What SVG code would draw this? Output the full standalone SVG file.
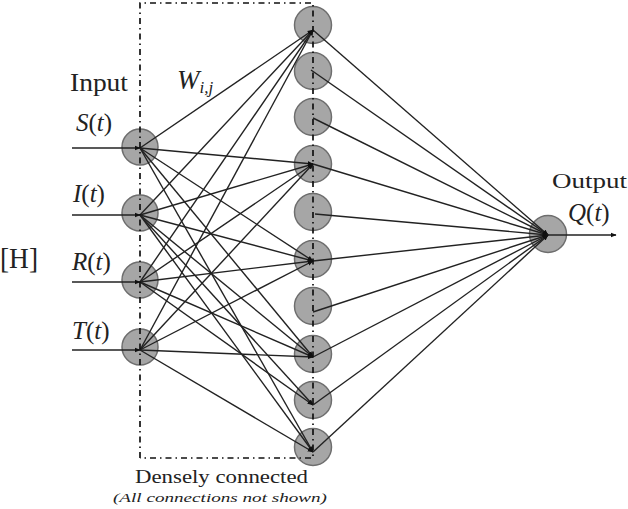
<svg xmlns="http://www.w3.org/2000/svg" width="628" height="509" viewBox="0 0 628 509">
<defs>
<style>
.nd{fill:#a6a6a6;stroke:#6e6e6e;stroke-width:1.5}
.cn{stroke:#222;stroke-width:1.4;fill:none;marker-end:url(#ah)}
.dd{stroke:#111;stroke-width:1.7;fill:none;stroke-dasharray:6 4 1.5 4}
.t{font-family:"Liberation Serif","DejaVu Serif","Times New Roman",serif;fill:#222}
.it{font-style:italic}
</style>
<marker id="ah" viewBox="0 0 10 10" refX="9" refY="5" markerWidth="6" markerHeight="6" markerUnits="userSpaceOnUse" orient="auto">
<path d="M0,1 L10,5 L0,9 z" fill="#111"/>
</marker>
</defs>
<rect width="628" height="509" fill="#fff"/>

<g id="input-nodes">
<g id="in-S"><circle class="nd" cx="140" cy="147" r="18"/></g>
<g id="in-I"><circle class="nd" cx="140" cy="213" r="18"/></g>
<g id="in-R"><circle class="nd" cx="140" cy="280" r="18"/></g>
<g id="in-T"><circle class="nd" cx="140" cy="347" r="18"/></g>
</g>
<g id="hidden-nodes">
<g id="h1"><circle class="nd" cx="313" cy="25" r="18.5"/></g>
<g id="h2"><circle class="nd" cx="313" cy="71" r="18.5"/></g>
<g id="h3"><circle class="nd" cx="313" cy="117" r="18.5"/></g>
<g id="h4"><circle class="nd" cx="313" cy="164" r="18.5"/></g>
<g id="h5"><circle class="nd" cx="313" cy="212" r="18.5"/></g>
<g id="h6"><circle class="nd" cx="313" cy="259" r="18.5"/></g>
<g id="h7"><circle class="nd" cx="313" cy="306" r="18.5"/></g>
<g id="h8"><circle class="nd" cx="313" cy="354" r="18.5"/></g>
<g id="h9"><circle class="nd" cx="313" cy="400" r="18.5"/></g>
<g id="h10"><circle class="nd" cx="313" cy="447" r="18.5"/></g>
</g>
<g id="output-node"><circle class="nd" cx="548" cy="234" r="18.5"/></g>

<g id="connectors">
<line class="cn" x1="72" y1="148" x2="140" y2="148"/>
<line class="cn" x1="72" y1="215" x2="140" y2="215"/>
<line class="cn" x1="72" y1="282" x2="140" y2="282"/>
<line class="cn" x1="72" y1="350" x2="140" y2="350"/>
<line class="cn" x1="140" y1="148" x2="313" y2="30"/>
<line class="cn" x1="140" y1="148" x2="313" y2="164"/>
<line class="cn" x1="140" y1="148" x2="313" y2="261"/>
<line class="cn" x1="140" y1="148" x2="313" y2="357"/>
<line class="cn" x1="140" y1="148" x2="313" y2="452"/>
<line class="cn" x1="140" y1="215" x2="313" y2="30"/>
<line class="cn" x1="140" y1="215" x2="313" y2="164"/>
<line class="cn" x1="140" y1="215" x2="313" y2="261"/>
<line class="cn" x1="140" y1="215" x2="313" y2="357"/>
<line class="cn" x1="140" y1="215" x2="313" y2="405"/>
<line class="cn" x1="140" y1="215" x2="313" y2="452"/>
<line class="cn" x1="140" y1="282" x2="313" y2="30"/>
<line class="cn" x1="140" y1="282" x2="313" y2="164"/>
<line class="cn" x1="140" y1="282" x2="313" y2="261"/>
<line class="cn" x1="140" y1="282" x2="313" y2="357"/>
<line class="cn" x1="140" y1="282" x2="313" y2="405"/>
<line class="cn" x1="140" y1="350" x2="313" y2="30"/>
<line class="cn" x1="140" y1="350" x2="313" y2="164"/>
<line class="cn" x1="140" y1="350" x2="313" y2="261"/>
<line class="cn" x1="140" y1="350" x2="313" y2="357"/>
<line class="cn" x1="140" y1="350" x2="313" y2="452"/>
<line class="cn" x1="313" y1="30" x2="548" y2="235"/>
<line class="cn" x1="311" y1="70" x2="548" y2="235"/>
<line class="cn" x1="313" y1="118" x2="548" y2="235"/>
<line class="cn" x1="313" y1="164" x2="548" y2="235"/>
<line class="cn" x1="315" y1="214" x2="548" y2="235"/>
<line class="cn" x1="313" y1="261" x2="548" y2="235"/>
<line class="cn" x1="313" y1="312" x2="548" y2="235"/>
<line class="cn" x1="313" y1="357" x2="548" y2="235"/>
<line class="cn" x1="313" y1="405" x2="548" y2="235"/>
<line class="cn" x1="313" y1="452" x2="548" y2="235"/>
<line class="cn" x1="548" y1="235" x2="616" y2="235"/>
</g>

<g id="dense-box">
<path class="dd" d="M140,458 L140,3 L313,3 L313,458 L140,458"/>
</g>

<g id="labels">
<text class="t" x="70" y="91" font-size="25" textLength="58" lengthAdjust="spacingAndGlyphs">Input</text>
<text class="t" x="177" y="89" font-size="27"><tspan class="it">W</tspan><tspan class="it" font-size="17" dy="4">i,j</tspan></text>
<text class="t" x="76" y="131" font-size="25"><tspan class="it">S</tspan>(<tspan class="it">t</tspan>)</text>
<text class="t" x="73" y="202" font-size="25"><tspan class="it">I</tspan>(<tspan class="it">t</tspan>)</text>
<text class="t" x="72" y="270" font-size="25"><tspan class="it">R</tspan>(<tspan class="it">t</tspan>)</text>
<text class="t" x="72" y="339" font-size="25"><tspan class="it">T</tspan>(<tspan class="it">t</tspan>)</text>
<text class="t" x="0" y="268" font-size="29" textLength="38" lengthAdjust="spacingAndGlyphs">[H]</text>
<text class="t" x="552" y="188" font-size="22" textLength="75" lengthAdjust="spacingAndGlyphs">Output</text>
<text class="t" x="568" y="221" font-size="25"><tspan class="it">Q</tspan>(<tspan class="it">t</tspan>)</text>
<text class="t" x="135" y="483" font-size="19" textLength="173" lengthAdjust="spacingAndGlyphs">Densely connected</text>
<text class="t it" x="113" y="502" font-size="13" textLength="214" lengthAdjust="spacingAndGlyphs">(All connections not shown)</text>
</g>
</svg>
